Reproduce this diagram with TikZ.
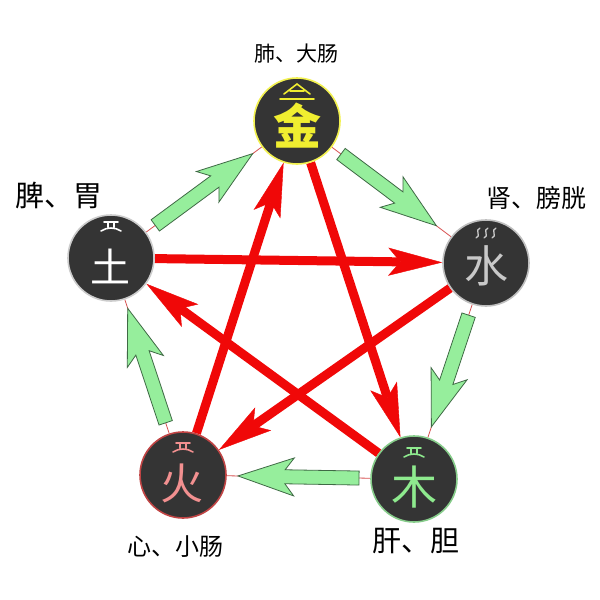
\documentclass[tikz,border=0pt]{standalone}
\usepackage{fontspec}
\newfontfamily\cjk{Noto Sans CJK SC}
\usetikzlibrary{arrows.meta,calc,backgrounds}

\definecolor{xinghui}{HTML}{343434}
\definecolor{kehong}{HTML}{F00808}
\definecolor{xianhong}{HTML}{D85050}
\definecolor{shenglv}{HTML}{96EE9C}
\definecolor{shengbian}{HTML}{3F6A45}
\definecolor{jinse}{HTML}{F0EE30}
\definecolor{huose}{HTML}{F29090}
\definecolor{huobian}{HTML}{C04444}
\definecolor{muse}{HTML}{8EEA8E}
\definecolor{mubian}{HTML}{86CC8A}
\definecolor{shuise}{HTML}{C8C8C8}

% 相生箭头: [箭尖离圆心] 起 终
\newcommand\shengjian[3][55pt]{%
  \path ($(#2)!55pt!(#3)$) coordinate (sa)
        ($(#3)!#1!(#2)$) coordinate (st);
  \path ($(st)!47pt!(sa)$) coordinate (sj)
        ($(st)!56pt!(sa)$) coordinate (sb);
  \draw[shengti] ($(sa)!7pt!90:(st)$) -- ($(sj)!7pt!-90:(sa)$)
    -- ($(sb)!19pt!-90:(sa)$) -- (st) -- ($(sb)!19pt!90:(sa)$)
    -- ($(sj)!7pt!90:(sa)$) -- ($(sa)!7pt!-90:(st)$) -- cycle;
}

% 字上的小纹: 圆 颜色 上沿
\newcommand\guanwen[3]{%
  \draw[shi,#2,shift={(#1)}] (-7,{#3}) -- (7,{#3})
    (-3,{#3}) -- (-3,{#3+5}) (3,{#3}) -- (3,{#3+5})
    (-10,{#3+9}) .. controls (-4,{#3+5}) and (4,{#3+5}) .. (10,{#3+9});
}

\begin{document}
\begin{tikzpicture}[x=1pt,y=-1pt,
    xing/.style={circle,minimum size=86pt,inner sep=0pt,fill=xinghui,line width=1.6pt},
    biaoqian/.style={text=black,inner sep=0pt},
    xianxian/.style={draw=xianhong,line width=0.8pt},
    kejian/.style={draw=kehong,line width=9pt,-{Stealth[length=54pt,width=28pt,inset=12pt,line width=0.4pt]}},
    shengti/.style={draw=shengbian,fill=shenglv,line width=0.8pt,line join=miter},
    shi/.style={line width=1.6pt,line cap=round}]
  \useasboundingbox (0,0) rectangle (600,600);

  % 五行
  \node[xing,draw=jinse!85!white] (jin) at (297,121) {};
  \node[xing,draw=white!80!black] (tu) at (111,258) {};
  \node[xing,draw=white!75!black] (shui) at (486,263) {};
  \node[xing,draw=huobian] (huo) at (183,475) {};
  \node[xing,draw=mubian] (mu) at (414,479) {};

  % 字
  \node[text=jinse,font=\cjk\bfseries\fontsize{48}{52}\selectfont] (jinzi) at (297,126) {金};
  \node[text=white,font=\cjk\fontsize{40}{44}\selectfont] (tuzi) at (110,266) {土};
  \node[text=shuise,font=\cjk\fontsize{44}{48}\selectfont] (shuizi) at (486,266) {水};
  \node[text=huose,font=\cjk\fontsize{43}{47}\selectfont] (huozi) at (182,483) {火};
  \node[text=muse,font=\cjk\fontsize{46}{50}\selectfont] (muzi) at (414,487) {木};

  % 小纹
  \draw[shi,jinse,shift={(jin)}] (-13,-27) -- (0,-37) -- (13,-27)
    (-7,-30) -- (7,-30) (-17,-22) -- (17,-22);
  \guanwen{tu}{white}{-36}
  \guanwen{huo}{huose}{-32}
  \guanwen{mu}{muse}{-31}
  \foreach \dx in {-8,0,8}
    \draw[shi,line width=1.3pt,shuise,shift={(shui)}]
      (\dx-2,-25) .. controls (\dx+4,-27) and (\dx-4,-33) .. (\dx+2,-35);

  % 脏腑
  \node[biaoqian,font=\cjk\fontsize{21}{24}\selectfont] (jinbq) at (296,54) {肺、大肠};
  \node[biaoqian,font=\cjk\fontsize{29}{32}\selectfont] (tubq) at (59,195) {脾、胃};
  \node[biaoqian,font=\cjk\fontsize{25}{28}\selectfont] (shuibq) at (536,198) {肾、膀胱};
  \node[biaoqian,font=\cjk\fontsize{24}{27}\selectfont] (huobq) at (175,547) {心、小肠};
  \node[biaoqian,font=\cjk\fontsize{29}{32}\selectfont] (mubq) at (416,541) {肝、胆};

  \begin{scope}[on background layer]
    \fill[white] (0,0) rectangle (600,600);
    % 细线
    \draw[xianxian] (jin) -- (shui) -- (mu) -- (huo) -- (tu) -- (jin);
    % 相克
    \draw[kejian] (jin) -- (mu);
    \draw[kejian] (mu) -- (tu);
    \draw[kejian] (tu) -- (shui);
    \draw[kejian] (shui) -- (huo);
    \draw[kejian] (huo) -- (jin);
    % 相生
    \shengjian[62pt]{jin}{shui}
    \shengjian{shui}{mu}
    \shengjian{mu}{huo}
    \shengjian[53pt]{huo}{tu}
    \shengjian{tu}{jin}
  \end{scope}
\end{tikzpicture}
\end{document}
